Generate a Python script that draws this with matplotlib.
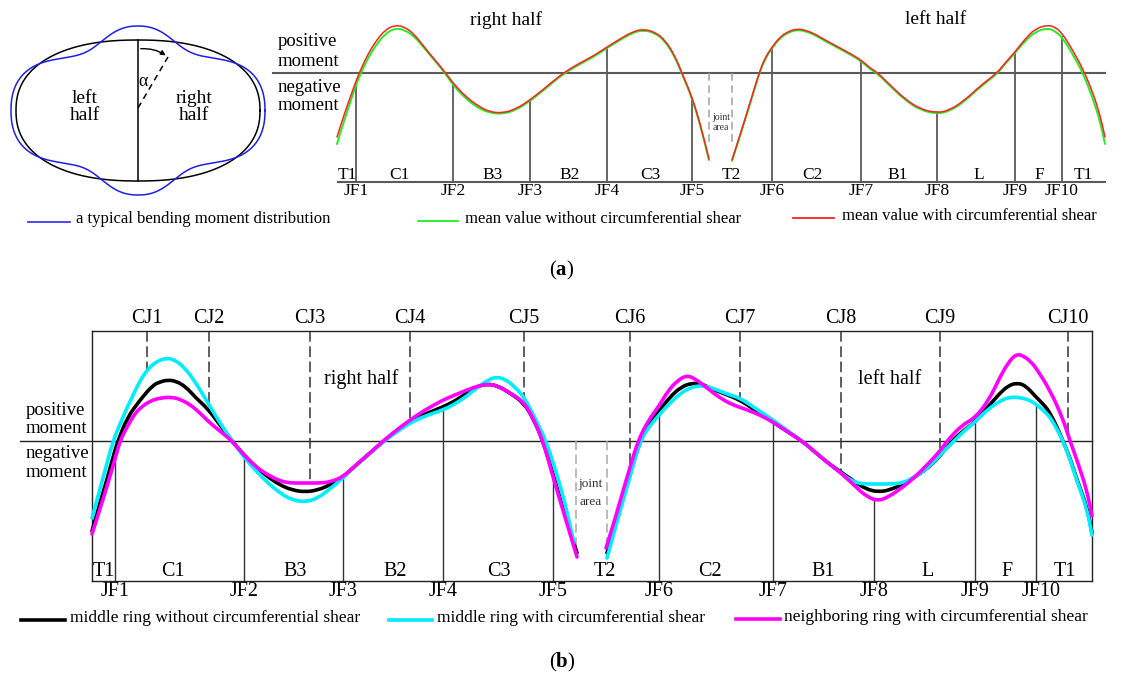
import numpy as np
import matplotlib
matplotlib.use('Agg')
import matplotlib.pyplot as plt
from matplotlib.patches import FancyArrowPatch, PathPatch
from matplotlib.path import Path

plt.rcParams['font.family'] = ['Liberation Serif', 'DejaVu Serif']
plt.rcParams['mathtext.fontset'] = 'custom'
plt.rcParams['mathtext.rm'] = 'Liberation Serif'
plt.rcParams['mathtext.bf'] = 'Liberation Serif:bold'

# ---------------- data: panel (a) ----------------
# position along ring (arbitrary units), moment (arbitrary units)
a_left_pos = [337, 344, 350, 356, 361, 368, 376, 385, 395, 405, 415, 425, 435, 445, 453, 465, 478, 490,
              503, 516, 530, 545, 563, 580, 595, 607, 620, 632, 643, 655, 665, 675, 682, 692, 700, 709]
a_left_green = [-71, -48, -30, -12, 0, 15, 28, 39, 45, 43, 36, 24, 12, 0, -12, -25, -35, -40,
                -41, -37, -28, -16, -1, 9, 17, 25, 33, 40, 43, 40, 32, 16, -1, -25, -51, -87]
a_left_red = [-64, -42, -25, -8, 4, 19, 32, 43, 48, 46, 38, 25, 13, 1, -10, -23, -33, -39,
              -40, -36, -27, -15, 0, 10, 18, 26, 34, 41, 44, 41, 33, 17, 0, -24, -50, -86]
a_right_pos = [732, 740, 750, 759, 765, 772, 780, 789, 797, 805, 815, 825, 840, 851, 861, 870, 878, 890,
               905, 920, 937, 950, 965, 980, 997, 1005, 1015, 1025, 1035, 1047, 1055, 1062, 1072, 1083,
               1093, 1100, 1105]
a_right_green = [-88, -63, -31, -1, 14, 25, 35, 41, 43, 42, 38, 32, 24, 18, 12, 4, -1, -13,
                 -27, -37, -41, -38, -28, -14, -1, 9, 20, 32, 41, 45, 42, 36, 20, 0,
                 -26, -48, -71]
a_right_red = [-87, -62, -30, 0, 15, 26, 36, 42, 44, 43, 39, 33, 25, 19, 13, 5, 0, -12,
               -26, -36, -40, -37, -27, -13, 0, 10, 21, 34, 44, 48, 46, 40, 24, 4,
               -20, -42, -64]
a_jf_pos = [356, 453, 530, 607, 692, 772, 861, 937, 1015, 1062]
a_jf_labels = ['JF1', 'JF2', 'JF3', 'JF4', 'JF5', 'JF6', 'JF7', 'JF8', 'JF9', 'JF10']
a_seg_pos = [347, 399, 493, 570, 650, 731, 812, 898, 979, 1039, 1083]
a_seg_labels = ['T1', 'C1', 'B3', 'B2', 'C3', 'T2', 'C2', 'B1', 'L', 'F', 'T1']
a_joint = [709, 732]

# ---------------- data: panel (b) ----------------
b_black_l_pos = [92, 100, 108, 115, 118, 127, 140, 153, 160, 167, 176, 186, 196, 208, 220, 232, 244, 256,
                 268, 280, 292, 305, 318, 330, 343, 355, 370, 384, 398, 410, 425, 443, 455, 467,
                 478, 488, 498, 510, 524, 534, 543, 553, 565, 577]
b_black_l = [-90, -62, -35, -9, 0, 23, 41, 56, 59, 61, 60, 54, 43, 32, 16, 0, -14, -26,
             -36, -44, -49, -51, -49, -44, -36, -25, -12, 0, 11, 20, 27, 34, 40, 48,
             55, 57, 55, 48, 38, 21, 0, -33, -74, -112]
b_cyan_l_pos = [92, 100, 106, 113, 120, 127, 134, 140, 147, 157, 167, 175, 185, 196, 208, 220, 232, 244,
                256, 268, 280, 292, 306, 318, 330, 343, 355, 370, 384, 398, 410, 425, 443, 455,
                467, 478, 488, 496, 505, 515, 524, 534, 546, 556, 565, 574]
b_cyan_l = [-77, -48, -26, 0, 17, 33, 48, 60, 71, 80, 83, 81, 73, 58, 38, 18, 0, -16,
            -30, -42, -52, -59, -61, -57, -48, -37, -25, -12, 0, 10, 18, 25, 31, 37,
            45, 54, 61, 64, 62, 54, 44, 25, 0, -30, -62, -102]
b_mag_l_pos = [92, 100, 108, 115, 120, 127, 134, 140, 150, 160, 172, 182, 192, 200, 210, 220, 232, 244,
               256, 268, 280, 290, 300, 310, 320, 330, 343, 355, 370, 383, 398, 410, 425, 443,
               455, 467, 478, 488, 498, 510, 524, 534, 543, 553, 565, 577]
b_mag_l = [-93, -68, -42, -18, 0, 14, 26, 33, 40, 43, 44, 41, 35, 28, 18, 10, 0, -14,
           -26, -34, -40, -42, -42, -42, -42, -41, -36, -25, -12, 0, 12, 21, 31, 41,
           46, 51, 55, 57, 55, 48, 39, 21, 0, -36, -76, -116]

b_black_r_pos = [607, 615, 623, 631, 640, 649, 659, 670, 681, 692, 702, 712, 725, 740, 755, 773, 788, 802,
                 815, 828, 841, 855, 866, 878, 890, 903, 915, 928, 940, 952, 963, 975, 987, 1000,
                 1008, 1016, 1025, 1036, 1045, 1050, 1057, 1063, 1070, 1077, 1087, 1092]
b_black_r = [-112, -84, -57, -30, 0, 16, 30, 44, 54, 58, 57, 52, 47, 41, 31, 19, 9, 0,
             -11, -22, -31, -41, -48, -51, -49, -43, -36, -27, -15, 0, 10, 19, 33, 48,
             55, 58, 56, 44, 35, 28, 14, 0, -17, -39, -66, -92]
b_cyan_r_pos = [607, 615, 623, 631, 640, 649, 659, 670, 681, 690, 697, 705, 715, 727, 740, 755, 773, 788,
                802, 815, 828, 841, 853, 865, 878, 890, 903, 915, 928, 940, 952, 963, 975, 987,
                1000, 1007, 1014, 1022, 1029, 1036, 1045, 1050, 1057, 1063, 1070, 1077, 1087, 1092]
b_cyan_r = [-117, -88, -60, -32, 0, 14, 26, 38, 48, 53, 55, 55, 52, 47, 43, 33, 21, 10,
            0, -11, -22, -32, -41, -43, -43, -43, -42, -36, -27, -14, -2, 9, 19, 31,
            40, 43, 44, 43, 41, 37, 29, 24, 12, 0, -18, -40, -68, -94]
b_mag_r_pos = [606, 615, 623, 631, 638, 648, 659, 668, 677, 687, 697, 707, 720, 733, 745, 760, 773, 788,
               802, 815, 828, 841, 855, 867, 879, 890, 903, 915, 928, 940, 947, 962, 975, 989,
               1000, 1008, 1016, 1024, 1032, 1036, 1050, 1063, 1070, 1078, 1087, 1092]
b_mag_r = [-107, -78, -50, -23, 0, 20, 35, 50, 60, 66, 61, 53, 43, 36, 32, 26, 19, 9,
           0, -11, -22, -32, -45, -56, -60, -55, -46, -36, -23, -10, 0, 16, 23, 41,
           64, 78, 87, 85, 78, 73, 51, 22, 0, -22, -50, -75]

b_jf_pos = [115, 244, 343, 443, 553, 659, 773, 874, 975, 1036]
b_jf_labels = ['JF1', 'JF2', 'JF3', 'JF4', 'JF5', 'JF6', 'JF7', 'JF8', 'JF9', 'JF10']
b_cj_pos = [147, 209, 310, 410, 524, 630, 740, 841, 940, 1068]
b_cj_labels = ['CJ1', 'CJ2', 'CJ3', 'CJ4', 'CJ5', 'CJ6', 'CJ7', 'CJ8', 'CJ9', 'CJ10']
b_seg_pos = [104, 173, 295, 395, 499, 605, 710, 823, 928, 1007, 1065]
b_seg_labels = ['T1', 'C1', 'B3', 'B2', 'C3', 'T2', 'C2', 'B1', 'L', 'F', 'T1']
b_joint = [576, 607]

# ---------------- figure ----------------
W, H = 1123, 686
fig = plt.figure(figsize=(W / 100, H / 100), dpi=100)


def add_ax(x0, y0, x1, y1):
    return fig.add_axes([x0 / W, 1 - y1 / H, (x1 - x0) / W, (y1 - y0) / H])


def smooth_line(ax, xs, ys, color, lw, zorder=2):
    """Draw the read points as a rounded path (quadratic Bezier through midpoints)."""
    pts = np.column_stack([np.asarray(xs, float), np.asarray(ys, float)])
    mids = (pts[:-1] + pts[1:]) / 2
    verts = [pts[0], mids[0]]
    codes = [Path.MOVETO, Path.LINETO]
    for i in range(1, len(pts) - 1):
        verts += [pts[i], mids[i]]
        codes += [Path.CURVE3, Path.CURVE3]
    verts.append(pts[-1])
    codes.append(Path.LINETO)
    patch = PathPatch(Path(verts, codes), fill=False, edgecolor=color, lw=lw,
                      capstyle='round', joinstyle='round', zorder=zorder, clip_on=False)
    ax.add_patch(patch)


ov = fig.add_axes([0, 0, 1, 1])
ov.set_xlim(0, W)
ov.set_ylim(H, 0)
ov.axis('off')
ov.patch.set_visible(False)

# ---- ring sketch ----
cx, cy, ra, rb, nexp = 138, 110.5, 122, 70.5, 2.3
t = np.linspace(0, 2 * np.pi, 1441)
Cc = np.sign(np.cos(t)) * np.abs(np.cos(t)) ** (2 / nexp)
Ss = np.sign(np.sin(t)) * np.abs(np.sin(t)) ** (2 / nexp)
ov.plot(cx + ra * Cc, cy - rb * Ss, color='black', lw=1.1)
deg = np.degrees(t)


def bump(c, s, p=2):
    d = (deg - c + 180) % 360 - 180
    return np.exp(-0.5 * np.abs(d / s) ** p)


delta = (-11 + 25 * (bump(90, 11.5) + bump(270, 11.5))
         + 16 * (bump(0, 41.6, 4) + bump(180, 41.6, 4)))
ov.plot(cx + (ra + delta) * Cc, cy - (rb + delta) * Ss, color='#1f1fe6', lw=1.1)
ov.plot([cx, cx], [cy - rb, cy + rb], color='black', lw=1.1)
ov.plot([cx, 168], [108, 57], color='black', lw=1.1, ls=(0, (4, 3)))
ov.add_patch(FancyArrowPatch((cx, cy - rb + 9), (168, 57), connectionstyle='arc3,rad=-0.2',
                             arrowstyle='-|>', mutation_scale=7, color='black', lw=1.0))
ov.text(143, 82, 'α', fontsize=13, ha='center', va='center')
ov.text(85, 107, 'left\nhalf', fontsize=14, ha='center', va='center', linespacing=1.05)
ov.text(194, 107, 'right\nhalf', fontsize=14, ha='center', va='center', linespacing=1.05)

# ---- panel (a) chart ----
ax_a = add_ax(337, 10, 1105, 182)
ax_a.set_xlim(337, 1105)
ax_a.set_ylim(-109, 63)
ax_a.axis('off')
gray = '#5a5a5a'
ax_a.plot([273, 1105], [0, 0], color=gray, lw=1.5, clip_on=False)
ax_a.plot([338, 1105], [-109, -109], color=gray, lw=1.5, clip_on=False)
tops_a = np.minimum(np.interp(a_jf_pos, a_left_pos + a_right_pos, a_left_green + a_right_green),
                    np.interp(a_jf_pos, a_left_pos + a_right_pos, a_left_red + a_right_red))
for xp, top in zip(a_jf_pos, tops_a):
    ax_a.plot([xp, xp], [-109, top], color=gray, lw=1.3, clip_on=False)
for xp in a_joint:
    ax_a.plot([xp, xp], [0, -72], color='#a0a0a0', lw=1.1, ls=(0, (5, 3)), clip_on=False)
smooth_line(ax_a, a_left_pos, a_left_green, '#22ee22', 1.4)
smooth_line(ax_a, a_right_pos, a_right_green, '#22ee22', 1.4)
smooth_line(ax_a, a_left_pos, a_left_red, '#ff2020', 1.1, zorder=3)
smooth_line(ax_a, a_right_pos, a_right_red, '#ff2020', 1.1, zorder=3)
for xp, lab in zip(a_seg_pos, a_seg_labels):
    ax_a.text(xp, -102, lab, fontsize=12.5, ha='center', va='center')
for xp, lab in zip(a_jf_pos, a_jf_labels):
    ax_a.text(xp, -118, lab, fontsize=12.5, ha='center', va='center')
ax_a.text(506, 53, 'right half', fontsize=14, ha='center', va='center')
ax_a.text(936, 53, 'left half', fontsize=14, ha='center', va='center')
for yv, s in zip([31, 11, -14, -32], ['positive', 'moment', 'negative', 'moment']):
    ax_a.text(278, yv, s, fontsize=13.5, ha='left', va='center')
ax_a.text(721, -44, 'joint', fontsize=7, ha='center', va='center', color='#333333')
ax_a.text(721, -54, 'area', fontsize=7, ha='center', va='center', color='#333333')

# legend (a)
ov.plot([28, 70], [222, 222], color='#3a3aff', lw=1.3)
ov.text(76, 219, 'a typical bending moment distribution', fontsize=12, va='center')
ov.plot([418, 458], [221, 221], color='#22ee22', lw=1.3)
ov.text(465, 219, 'mean value without circumferential shear', fontsize=12, va='center')
ov.plot([793, 834], [218, 218], color='#ff2020', lw=1.3)
ov.text(842, 216, 'mean value with circumferential shear', fontsize=12, va='center')
ov.text(562, 270, r'($\mathbf{a}$)', fontsize=15, ha='center', va='center')

# ---- panel (b) chart ----
ax_b = add_ax(92, 331, 1092, 581)
ax_b.set_xlim(92, 1092)
ax_b.set_ylim(-140, 110)
ax_b.set_xticks([])
ax_b.set_yticks([])
for sp in ax_b.spines.values():
    sp.set_linewidth(1.0)
    sp.set_color('#222222')
ax_b.plot([20, 1092], [0, 0], color='#222222', lw=1.0, clip_on=False)

all_pos = [b_black_l_pos, b_cyan_l_pos, b_mag_l_pos, b_black_r_pos, b_cyan_r_pos, b_mag_r_pos]
all_val = [b_black_l, b_cyan_l, b_mag_l, b_black_r, b_cyan_r, b_mag_r]


def curve_env(xq, fn):
    vals = []
    for p, v in zip(all_pos, all_val):
        if p[0] <= xq <= p[-1]:
            vals.append(np.interp(xq, p, v))
    return fn(vals)


for xp in b_jf_pos:
    ax_b.plot([xp, xp], [-140, curve_env(xp, min)], color='#333333', lw=1.0)
for xp in b_cj_pos:
    ax_b.plot([xp, xp], [110, curve_env(xp, max)], color='#333333', lw=1.1, ls=(0, (7, 3)))
for xp in b_joint:
    ax_b.plot([xp, xp], [0, -110], color='#a8a8a8', lw=1.1, ls=(0, (6, 3)))

lw_b = 2.6
smooth_line(ax_b, b_black_l_pos, b_black_l, 'black', lw_b, zorder=3)
smooth_line(ax_b, b_black_r_pos, b_black_r, 'black', lw_b, zorder=3)
smooth_line(ax_b, b_cyan_l_pos, b_cyan_l, '#00ecff', lw_b, zorder=4)
smooth_line(ax_b, b_cyan_r_pos, b_cyan_r, '#00ecff', lw_b, zorder=4)
smooth_line(ax_b, b_mag_l_pos, b_mag_l, '#ff00ff', lw_b, zorder=5)
smooth_line(ax_b, b_mag_r_pos, b_mag_r, '#ff00ff', lw_b, zorder=5)

for xp, lab in zip(b_seg_pos, b_seg_labels):
    ax_b.text(xp, -131, lab, fontsize=14.5, ha='center', va='center')
for xp, lab in zip(b_jf_pos, b_jf_labels):
    ax_b.text(xp + (5 if lab == 'JF10' else 0), -151, lab, fontsize=14.5, ha='center', va='center',
              clip_on=False)
for xp, lab in zip(b_cj_pos, b_cj_labels):
    ax_b.text(xp, 123, lab, fontsize=14.5, ha='center', va='center', clip_on=False)
ax_b.text(361, 62, 'right half', fontsize=14.5, ha='center', va='center')
ax_b.text(890, 62, 'left half', fontsize=14.5, ha='center', va='center')
for yv, s in zip([31, 13, -12, -31], ['positive', 'moment', 'negative', 'moment']):
    ax_b.text(26, yv, s, fontsize=13.5, ha='left', va='center', clip_on=False)
ax_b.text(591, -43, 'joint', fontsize=9.5, ha='center', va='center', color='#333333')
ax_b.text(591, -61, 'area', fontsize=9.5, ha='center', va='center', color='#333333')

# legend (b)
ov.plot([21, 65], [620, 620], color='black', lw=2.6)
ov.text(70, 618, 'middle ring without circumferential shear', fontsize=12.5, va='center')
ov.plot([389, 432], [620, 620], color='#00ecff', lw=2.6)
ov.text(437, 618, 'middle ring with circumferential shear', fontsize=12.5, va='center')
ov.plot([736, 780], [619, 619], color='#ff00ff', lw=2.6)
ov.text(784, 617, 'neighboring ring with circumferential shear', fontsize=12.5, va='center')
ov.text(562, 662, r'($\mathbf{b}$)', fontsize=15, ha='center', va='center')

fig.savefig('out.png', dpi=100)
